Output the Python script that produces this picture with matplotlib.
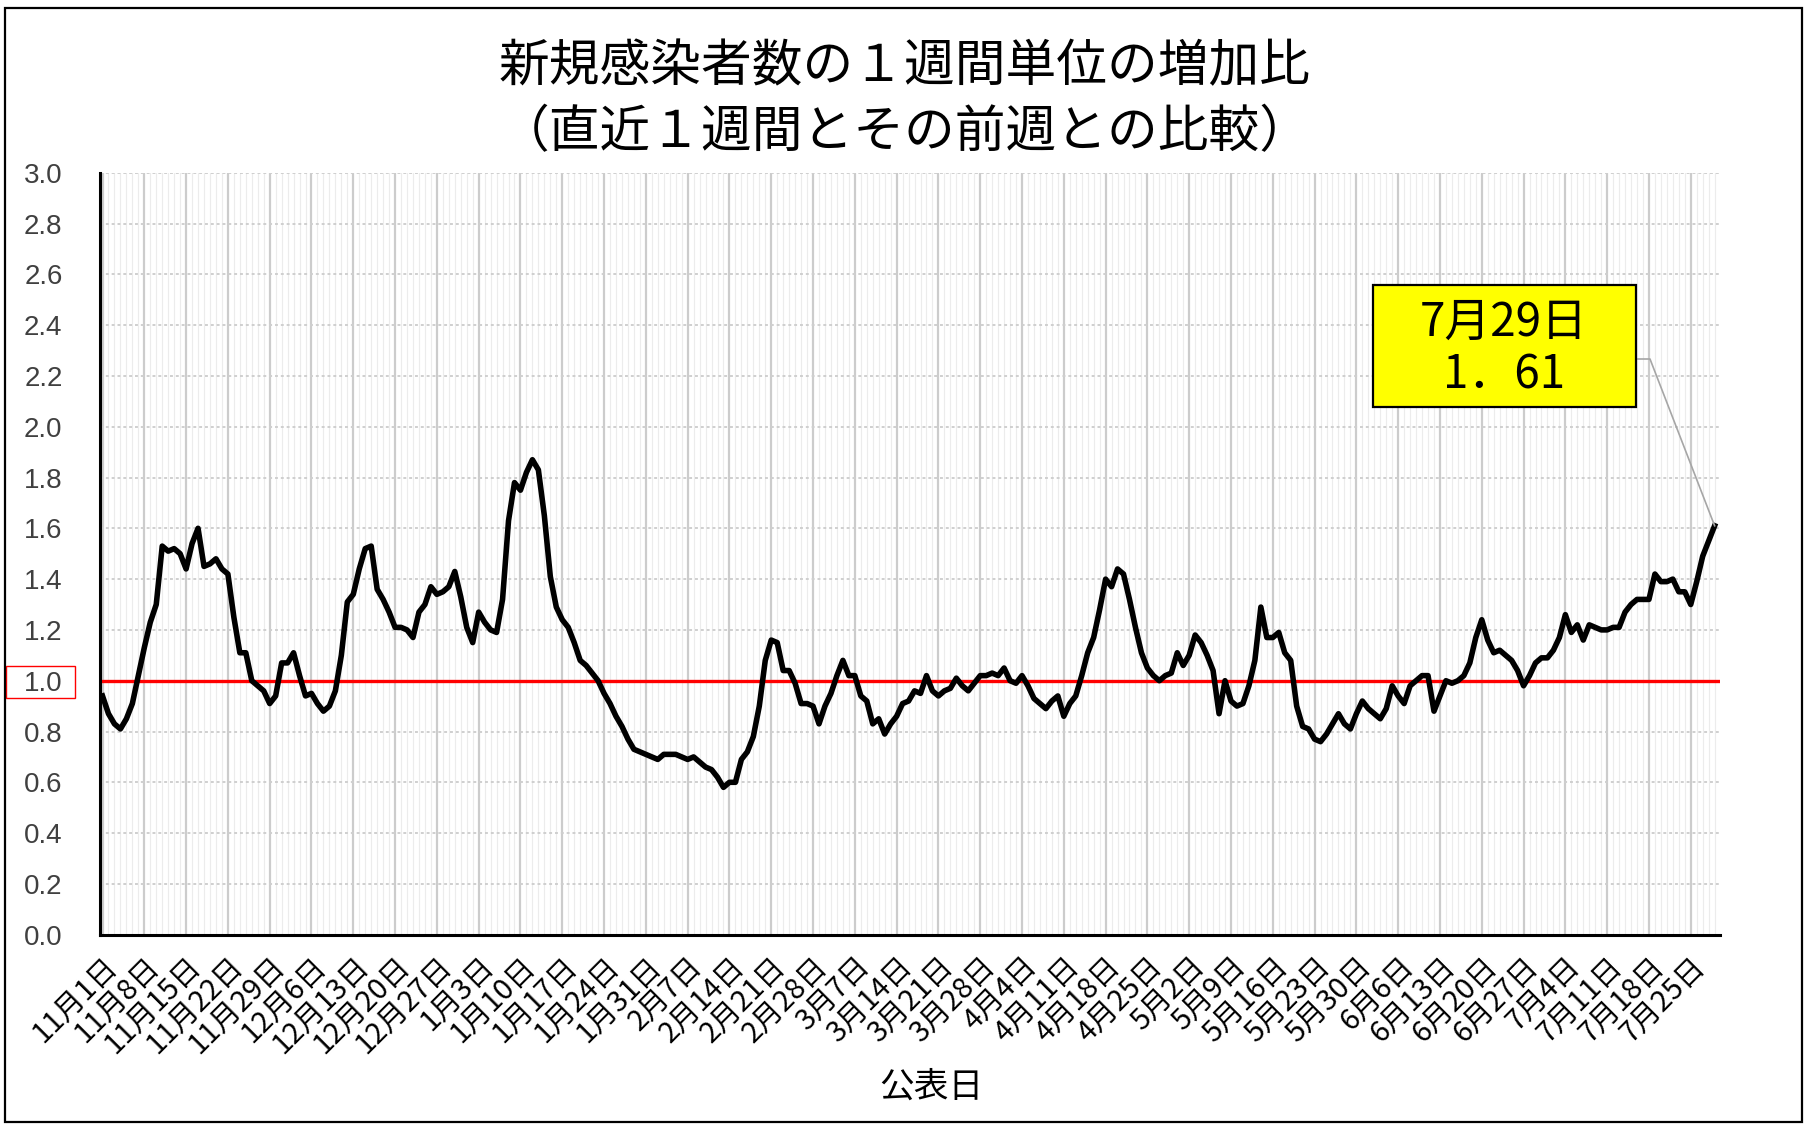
import matplotlib
matplotlib.use("Agg")
import matplotlib.pyplot as plt
from matplotlib.patches import Rectangle
from matplotlib.lines import Line2D
import numpy as np
import pandas as pd

plt.rcParams['font.family'] = ['Noto Sans CJK JP', 'DejaVu Sans']

# 公表日 (daily, 2020-11-01 .. 2021-07-29)
dates = pd.date_range('2020-11-01', '2021-07-29', freq='D')

# 新規感染者数の1週間単位の増加比
ratio = [
    0.94, 0.87, 0.83, 0.81, 0.85, 0.91, 1.02,
    1.13, 1.23, 1.30, 1.53, 1.51, 1.52, 1.50,
    1.44, 1.54, 1.60, 1.45, 1.46, 1.48, 1.44,
    1.42, 1.25, 1.11, 1.11, 1.00, 0.98, 0.96,
    0.91, 0.94, 1.07, 1.07, 1.11, 1.02, 0.94,
    0.95, 0.91, 0.88, 0.90, 0.96, 1.10, 1.31,
    1.34, 1.44, 1.52, 1.53, 1.36, 1.32, 1.27,
    1.21, 1.21, 1.20, 1.17, 1.27, 1.30, 1.37,
    1.34, 1.35, 1.37, 1.43, 1.33, 1.21, 1.15,
    1.27, 1.23, 1.20, 1.19, 1.32, 1.63, 1.78,
    1.75, 1.82, 1.87, 1.83, 1.65, 1.41, 1.29,
    1.24, 1.21, 1.15, 1.08, 1.06, 1.03, 1.00,
    0.95, 0.91, 0.86, 0.82, 0.77, 0.73, 0.72,
    0.71, 0.70, 0.69, 0.71, 0.71, 0.71, 0.70,
    0.69, 0.70, 0.68, 0.66, 0.65, 0.62, 0.58,
    0.60, 0.60, 0.69, 0.72, 0.78, 0.90, 1.08,
    1.16, 1.15, 1.04, 1.04, 0.99, 0.91, 0.91,
    0.90, 0.83, 0.90, 0.95, 1.02, 1.08, 1.02,
    1.02, 0.94, 0.92, 0.83, 0.85, 0.79, 0.83,
    0.86, 0.91, 0.92, 0.96, 0.95, 1.02, 0.96,
    0.94, 0.96, 0.97, 1.01, 0.98, 0.96, 0.99,
    1.02, 1.02, 1.03, 1.02, 1.05, 1.00, 0.99,
    1.02, 0.98, 0.93, 0.91, 0.89, 0.92, 0.94,
    0.86, 0.91, 0.94, 1.02, 1.11, 1.17, 1.28,
    1.40, 1.37, 1.44, 1.42, 1.32, 1.21, 1.11,
    1.05, 1.02, 1.00, 1.02, 1.03, 1.11, 1.06,
    1.10, 1.18, 1.15, 1.10, 1.04, 0.87, 1.00,
    0.92, 0.90, 0.91, 0.98, 1.08, 1.29, 1.17,
    1.17, 1.19, 1.11, 1.08, 0.90, 0.82, 0.81,
    0.77, 0.76, 0.79, 0.83, 0.87, 0.83, 0.81,
    0.87, 0.92, 0.89, 0.87, 0.85, 0.89, 0.98,
    0.94, 0.91, 0.98, 1.00, 1.02, 1.02, 0.88,
    0.94, 1.00, 0.99, 1.00, 1.02, 1.07, 1.17,
    1.24, 1.16, 1.11, 1.12, 1.10, 1.08, 1.04,
    0.98, 1.02, 1.07, 1.09, 1.09, 1.12, 1.17,
    1.26, 1.19, 1.22, 1.16, 1.22, 1.21, 1.20,
    1.20, 1.21, 1.21, 1.27, 1.30, 1.32, 1.32,
    1.32, 1.42, 1.39, 1.39, 1.40, 1.35, 1.35,
    1.30, 1.39, 1.49, 1.55, 1.61,
]
assert len(ratio) == len(dates)

threshold = 1.0
yticks = np.round(np.arange(0, 3.01, 0.2), 1)
title1 = '新規感染者数の１週間単位の増加比'
title2 = '（直近１週間とその前週との比較）'
xlabel = '公表日'
box_line1 = '7月29日'
box_line2 = '1．61'

W, H = 1809, 1128
fig = plt.figure(figsize=(W / 100, H / 100), dpi=100)
ax = fig.add_axes([100 / W, 1 - 934.7 / H, 1620 / W, 762 / H])

x = np.arange(len(dates))
week_pos = x[::7]
week_labels = [f'{d.month}月{d.day}日' for d in dates[::7]]

ax.set_xlim(-0.42, 270.9)
ax.set_ylim(0, 3)

ax.set_xticks(week_pos)
ax.set_xticks(x, minor=True)
ax.set_xticklabels(week_labels, rotation=45, ha='right', va='top',
                   rotation_mode='anchor', fontsize=21)
ax.set_yticks(yticks)
ax.set_yticklabels([f'{v:.1f}' for v in yticks], fontsize=20,
                   family='Liberation Sans', color='#404040')
ax.tick_params(axis='both', which='both', length=0)
ax.tick_params(axis='y', pad=27)
ax.tick_params(axis='x', pad=12)

ax.grid(axis='x', which='minor', color='#ececec', lw=0.8)
ax.grid(axis='x', which='major', color='#cccccc', lw=1.6)
ax.grid(axis='y', which='major', color='#cfcfcf', lw=1.4, ls=(0, (1.5, 1.5)))
ax.set_axisbelow(True)

for s in ['top', 'right']:
    ax.spines[s].set_visible(False)
for s in ['left', 'bottom']:
    ax.spines[s].set_linewidth(2.2)
    ax.spines[s].set_color('black')

ax.axhline(threshold, color='#ff0000', lw=2.4, zorder=2)
ax.plot(x, ratio, color='black', lw=4.0, solid_joinstyle='round', zorder=3)

# titles and axis title
fig.text(0.5, 1 - 67 / H, title1, ha='center', va='center', fontsize=36.5)
fig.text(0.5, 1 - 133 / H, title2, ha='center', va='center', fontsize=36.5)
fig.text(931 / W, 1 - 1087 / H, xlabel, ha='center', va='center', fontsize=25)

# red frame around the 1.0 label
fig.patches.append(Rectangle((6 / W, 1 - 698 / H), 69 / W, 32 / H,
                             transform=fig.transFigure, fill=False,
                             edgecolor='#ff0000', lw=1.0))

# callout for the last value
fig.patches.append(Rectangle((1373 / W, 1 - 407 / H), 263 / W, 122 / H,
                             transform=fig.transFigure, facecolor='#ffff00',
                             edgecolor='black', lw=1.6, zorder=5))
fig.text(1504 / W, 1 - 323 / H, box_line1, ha='center', va='center',
         fontsize=33, zorder=6)
fig.text(1504 / W, 1 - 375 / H, box_line2, ha='center', va='center',
         fontsize=33, zorder=6)
pt = fig.transFigure.inverted().transform(ax.transData.transform((x[-1], ratio[-1])))
fig.lines.append(Line2D([1636 / W, 1650 / W, pt[0]],
                        [1 - 359 / H, 1 - 359 / H, pt[1]],
                        transform=fig.transFigure, color='#a6a6a6', lw=1.2, zorder=4))

# outer frame
fig.patches.append(Rectangle((5 / W, 1 - 1122 / H), 1797 / W, 1114 / H,
                             transform=fig.transFigure, fill=False,
                             edgecolor='black', lw=1.6))

fig.savefig('out.png', dpi=100)
